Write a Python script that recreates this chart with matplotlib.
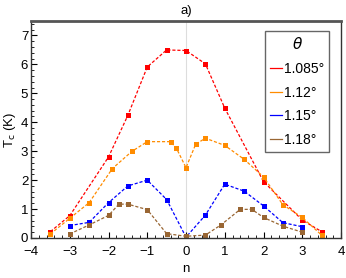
import numpy as np
import matplotlib.pyplot as plt
from matplotlib.ticker import MultipleLocator

# theta = 1.085 deg
n_red = [-3.5, -3, -2, -1.5, -1, -0.5, 0, 0.5, 1, 2, 3, 3.5]
t_red = [0.22, 0.77, 2.8, 4.24, 5.91, 6.5, 6.48, 6.02, 4.49, 1.95, 0.62, 0.22]

# theta = 1.12 deg
n_orange = [-3.5, -3, -2.5, -1.9, -1.4, -1, -0.4, -0.25, 0, 0.25, 0.5, 1, 1.5, 2, 2.5, 3, 3.5]
t_orange = [0.14, 0.68, 1.22, 2.4, 2.99, 3.33, 3.33, 3.11, 2.43, 3.24, 3.45, 3.2,
            2.72, 2.11, 1.15, 0.71, 0.1]

# theta = 1.15 deg
n_blue = [-3, -2.5, -2, -1.5, -1, -0.5, 0, 0.5, 1, 1.5, 2, 2.5, 3]
t_blue = [0.43, 0.54, 1.22, 1.8, 2.0, 1.33, 0.03, 0.79, 1.86, 1.62, 1.11, 0.53, 0.39]

# theta = 1.18 deg
n_brown = [-3, -2.5, -2, -1.73, -1.5, -1, -0.5, 0, 0.5, 0.9, 1.4, 1.7, 2, 2.5, 3]
t_brown = [0.14, 0.45, 0.78, 1.17, 1.17, 0.98, 0.15, 0.06, 0.1, 0.45, 0.99, 0.99,
           0.71, 0.41, 0.2]

labels = ["1.085°", "1.12°", "1.15°", "1.18°"]
colors = ["#ff0000", "#ff8c00", "#0000ff", "#996633"]

plt.rcParams['font.family'] = ['Liberation Sans', 'DejaVu Sans']

fig = plt.figure(figsize=(3.46, 2.78), dpi=100)
ax = fig.add_axes([31 / 346, 1 - 238 / 278, 310 / 346, 217 / 278])

ax.axvline(0, color="#dddddd", linewidth=0.8, zorder=0)

series = [(n_red, t_red), (n_orange, t_orange), (n_blue, t_blue), (n_brown, t_brown)]
for (xs, ys), c, lab in zip(series, colors, labels):
    ax.plot(xs, ys, color=c, linestyle=(0, (2.5, 1.5)), linewidth=0.9,
            marker="s", markersize=3.6, markeredgewidth=0, label=lab)

ax.set_xlim(-4, 4)
ax.set_ylim(0, 7.5)
ax.xaxis.set_major_locator(MultipleLocator(1))
ax.xaxis.set_minor_locator(MultipleLocator(0.2))
ax.yaxis.set_major_locator(MultipleLocator(1))
ax.yaxis.set_minor_locator(MultipleLocator(0.2))
ax.tick_params(which="both", direction="in", top=False, right=False,
               labelsize=9.5, pad=2)
ax.tick_params(axis="x", which="both", pad=6)
ax.tick_params(which="major", length=4, width=0.8)
ax.tick_params(which="minor", length=2, width=0.6)

for s in ax.spines.values():
    s.set_color("#333333")
    s.set_linewidth(1.0)
ax.spines["top"].set_color("#555555")
ax.spines["top"].set_linewidth(2.0)

ax.set_xlabel("n", fontsize=9.5, labelpad=3)
ax.set_ylabel("T$_\\mathrm{c}$ (K)", fontsize=9.5, labelpad=2)
ax.set_title("a)", fontsize=9.5, pad=5)

leg = ax.legend(loc="upper right", bbox_to_anchor=(0.985, 0.985), title="$\\theta$",
                fontsize=10, title_fontsize=11, fancybox=False, framealpha=1,
                edgecolor="#666666", handlelength=0.85, handletextpad=0.2,
                borderpad=0.35, labelspacing=0.7, markerscale=0)
for h in leg.legend_handles:
    h.set_linestyle("-")
    h.set_marker("")
leg.get_frame().set_linewidth(1.0)

fig.savefig("out.png", dpi=100)
